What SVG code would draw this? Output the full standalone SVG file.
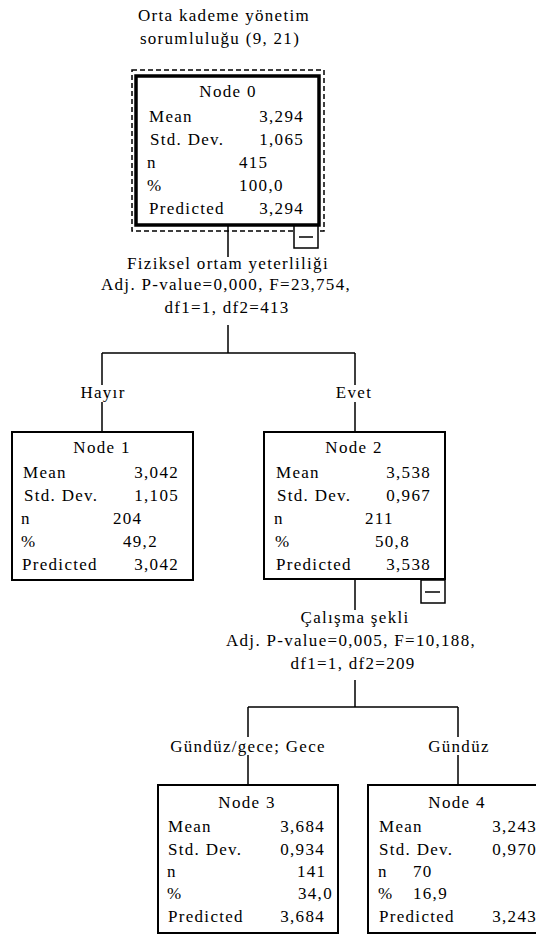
<svg xmlns="http://www.w3.org/2000/svg" width="536" height="934" viewBox="0 0 536 934">
<style>
text{font-family:"Liberation Serif","Times New Roman",serif;font-size:17px;letter-spacing:1.3px;fill:#000}
.c{text-anchor:middle}
.r{text-anchor:end}
.box{fill:#fff;stroke:#000;stroke-width:2}
.thick{fill:#fff;stroke:#000;stroke-width:3.5}
.dash{fill:none;stroke:#000;stroke-width:1.5;stroke-dasharray:5 3}
.ln{fill:none;stroke:#000;stroke-width:1.5}
.tg{fill:#fff;stroke:#000;stroke-width:1.5}
</style>
<rect width="536" height="934" fill="#fff"/>
<g id="connectors">
<path class="ln" d="M228 226V257M228 325V353M102 353H355M102 353V385M355 353V385M102 402V432M355 402V432M355 580V610M355 680V707M248 707H458M248 707V737M458 707V737M248 755V785M458 755V785"/>
</g>
<g id="title">
<text x="224" y="21" class="c">Orta kademe yönetim</text>
<text x="220" y="44" class="c">sorumluluğu (9, 21)</text>
</g>
<g id="node0">
<rect class="dash" x="132" y="70" width="192" height="161"/>
<rect class="thick" x="136" y="76" width="183" height="149"/>
<rect class="tg" x="294" y="226" width="24" height="22"/>
<path class="ln" d="M299 237H313"/>
<text x="228" y="97" class="c">Node 0</text>
<text x="149" y="122">Mean</text><text x="304" y="122" class="r">3,294</text>
<text x="150" y="145">Std. Dev.</text><text x="304" y="145" class="r">1,065</text>
<text x="147" y="168">n</text><text x="239" y="168">415</text>
<text x="147" y="191">%</text><text x="239" y="191">100,0</text>
<text x="149" y="214">Predicted</text><text x="304" y="214" class="r">3,294</text>
</g>
<g id="split0">
<text x="228" y="269" class="c">Fiziksel ortam yeterliliği</text>
<text x="226" y="290" class="c">Adj. P-value=0,000, F=23,754,</text>
<text x="227" y="313" class="c">df1=1, df2=413</text>
<text x="103" y="398" class="c">Hayır</text>
<text x="354" y="398" class="c">Evet</text>
</g>
<g id="node1">
<rect class="box" x="12" y="432" width="181" height="148"/>
<text x="102" y="453" class="c">Node 1</text>
<text x="23" y="478">Mean</text><text x="179" y="478" class="r">3,042</text>
<text x="24" y="501">Std. Dev.</text><text x="179" y="501" class="r">1,105</text>
<text x="21" y="524">n</text><text x="113" y="524">204</text>
<text x="21" y="547">%</text><text x="123" y="547">49,2</text>
<text x="22" y="570">Predicted</text><text x="179" y="570" class="r">3,042</text>
</g>
<g id="node2">
<rect class="box" x="264" y="432" width="181" height="147"/>
<rect class="tg" x="421" y="580" width="24" height="23"/>
<path class="ln" d="M425 592H440"/>
<text x="354" y="453" class="c">Node 2</text>
<text x="276" y="478">Mean</text><text x="431" y="478" class="r">3,538</text>
<text x="277" y="501">Std. Dev.</text><text x="431" y="501" class="r">0,967</text>
<text x="274" y="524">n</text><text x="365" y="524">211</text>
<text x="275" y="547">%</text><text x="375" y="547">50,8</text>
<text x="276" y="570">Predicted</text><text x="431" y="570" class="r">3,538</text>
</g>
<g id="split2">
<text x="355" y="623" class="c">Çalışma şekli</text>
<text x="351" y="646" class="c">Adj. P-value=0,005, F=10,188,</text>
<text x="353" y="669" class="c">df1=1, df2=209</text>
<text x="248" y="752" class="c">Gündüz/gece; Gece</text>
<text x="459" y="752" class="c">Gündüz</text>
</g>
<g id="node3">
<rect class="box" x="158" y="785" width="180" height="148"/>
<text x="247" y="808" class="c">Node 3</text>
<text x="168" y="832">Mean</text><text x="325" y="832" class="r">3,684</text>
<text x="168" y="855">Std. Dev.</text><text x="325" y="855" class="r">0,934</text>
<text x="167" y="877">n</text><text x="297" y="877">141</text>
<text x="167" y="899">%</text><text x="298" y="899">34,0</text>
<text x="168" y="922">Predicted</text><text x="325" y="922" class="r">3,684</text>
</g>
<g id="node4">
<rect class="box" x="368" y="785" width="180" height="148"/>
<text x="457" y="808" class="c">Node 4</text>
<text x="379" y="832">Mean</text><text x="537" y="832" class="r">3,243</text>
<text x="379" y="855">Std. Dev.</text><text x="537" y="855" class="r">0,970</text>
<text x="378" y="877">n</text><text x="413" y="877">70</text>
<text x="378" y="899">%</text><text x="413" y="899">16,9</text>
<text x="379" y="922">Predicted</text><text x="537" y="922" class="r">3,243</text>
</g>
</svg>
